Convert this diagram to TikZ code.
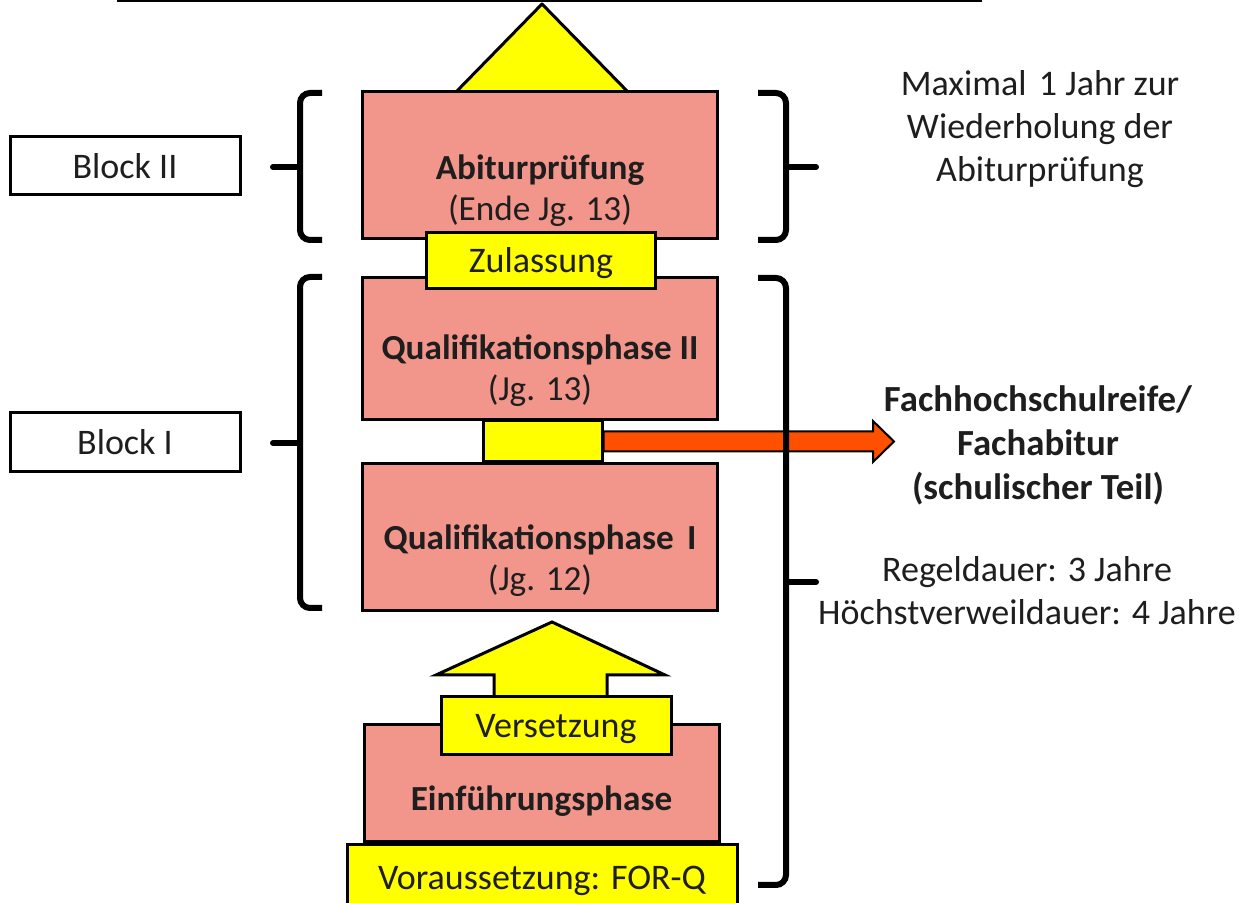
\documentclass[tikz,border=0pt]{standalone}
\usepackage{fontspec}
\setmainfont{Carlito}
\usetikzlibrary{calc}
\definecolor{pinkfill}{HTML}{F2958B}
\definecolor{yel}{HTML}{FFFF00}
\definecolor{orng}{HTML}{FF5000}
\definecolor{txt}{HTML}{1E1E1E}
\begin{document}
\begin{tikzpicture}[x=0.5pt,y=-0.5pt,
  font=\fontsize{18}{21}\selectfont, text=txt,
  pbox/.style={draw=black, line width=1.5pt, fill=pinkfill, inner sep=0pt},
  ybox/.style={draw=black, line width=1.5pt, fill=yel, inner sep=0pt, text height=14pt, text depth=2pt},
  wbox/.style={draw=black, line width=1.5pt, fill=white, inner sep=0pt},
  brk/.style={draw=black, line width=3pt, rounded corners=5pt},
  tick/.style={draw=black, line width=3pt, line cap=round},
  lbl/.style={align=center, inner sep=0pt},
  boxtxt/.style={lbl, font=\fontsize{17.6}{20.5}\selectfont}]
\useasboundingbox (0,0) rectangle (1239,903);

% top line and triangle
\coordinate (tl) at (117,1);
\coordinate (tr) at (982,1);
\draw[line width=1.5pt] (tl) -- (tr);
\coordinate (apex) at (542,4);
\draw[line width=1.5pt, fill=yel, line join=round] (456,92) -- (apex) -- (628,92) -- cycle;

% main boxes
\node[pbox, minimum width=177.5pt, minimum height=73.5pt] (abi) at (539.5,165.5) {};
\node[pbox, minimum width=177.5pt, minimum height=71pt] (q2) at (539.5,349) {};
\node[ybox, minimum width=114.5pt, minimum height=28pt] (zul) at (541,261) {Zulassung};
\node[pbox, minimum width=177.5pt, minimum height=73.5pt] (q1) at (539.5,537.5) {};
\node[ybox, minimum width=59.5pt, minimum height=20.5pt] (small) at (542.5,441.5) {};

% orange arrow
\draw[line width=1pt, fill=orng, line join=miter]
  ($(small.east)+(0,-10)$) -- (873,431.5) -- (873,421) -- (894,441.5) -- (873,462)
  -- (873,451.5) -- ($(small.east)+(0,10)$) -- cycle;

% up arrow
\draw[line width=1.5pt, fill=yel]
  (494,700) -- (494,675) -- (436,675) -- (552,622) -- (665,675) -- (607,675) -- (607,700) -- cycle;

\node[pbox, minimum width=177.5pt, minimum height=58.5pt] (einf) at (541.5,783.5) {};
\node[ybox, minimum width=115pt, minimum height=29pt] (vers) at (556,726) {Versetzung};
\node[ybox, minimum width=195pt, minimum height=33pt] (vor) at (542,878) {Voraussetzung: FOR-Q};

% texts in boxes
\node[boxtxt] (abit) at (540,191) {\textbf{Abiturprüfung}\\(Ende Jg. 13)};
\node[boxtxt] (q2t) at (540,371) {\textbf{Qualifikationsphase II}\\(Jg. 13)};
\node[boxtxt] (q1t) at (540,561) {\textbf{Qualifikationsphase\hspace{0.15em} I}\\(Jg. 12)};
\node[boxtxt] (einft) at (541.5,801) {\textbf{Einführungsphase}};

% left blocks
\node[wbox, minimum width=115pt, minimum height=29pt] (blk2) at (125,166) {Block II};
\node[wbox, minimum width=115pt, minimum height=29.5pt] (blk1) at (125,442.5) {Block I};

% left brackets
\draw[brk] (322,93) -- (300,93) -- (300,240) -- (322,240);
\draw[tick] (273,167) -- (300,167);
\draw[brk] (322,277) -- (300,277) -- (300,608) -- (322,608);
\draw[tick] (273,443) -- (300,443);

% right brackets
\draw[brk] (758,93) -- (786,93) -- (786,240) -- (758,240);
\draw[tick] (786,167) -- (816,167);
\draw[brk] (758,278) -- (786,278) -- (786,885) -- (758,885);
\draw[tick] (786,582) -- (816,582);

% right texts
\node[lbl, font=\fontsize{18}{21.5}\selectfont] (maxt) at (1040,129)
  {Maximal\hspace{0.12em} 1 Jahr zur\\Wiederholung der\\Abiturprüfung};
\node[lbl, font=\bfseries\fontsize{18.4}{22}\selectfont] (fht) at (1038,445)
  {Fachhochschulreife/\\Fachabitur\\(schulischer Teil)};
\node[lbl, font=\fontsize{18}{21.5}\selectfont] (regt) at (1027,591)
  {Regeldauer: 3 Jahre\\Höchstverweildauer: 4 Jahre};
\end{tikzpicture}
\end{document}
